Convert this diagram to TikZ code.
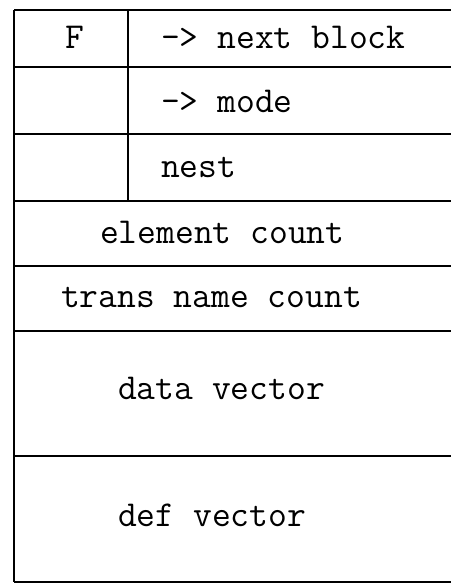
\documentclass[tikz,border=0pt]{standalone}
\usepackage{fontspec}
\begin{document}
\begin{tikzpicture}[x=1pt,y=-1pt,line cap=butt,line join=miter]
		\tikzset{declare function={xl=14;xd=128;xr=451;ytop=10;ybot=582;},
			cell/.style={anchor=base west,inner sep=0pt,font=\ttfamily\fontsize{36.5}{36.5}\selectfont},
			rule/.style={line width=1.8pt}
		}
		\useasboundingbox (0,0) rectangle (451,584);
		\foreach \y in {ytop,67,134,201,266,331,456,ybot} \draw[rule] (xl,\y)--(xr,\y);
		\draw[rule] (xl,ytop)--(xl,ybot);
		\draw[rule] (xd,ytop)--(xd,201);
		\node[cell] (flag) at (65,48) {F};
		\node[cell] (next) at (161,48) {-> next block};
		\node[cell] (mode) at (161,112) {-> mode};
		\node[cell] (nest) at (161,177) {nest};
		\node[cell] (elem) at (100,243) {element count};
		\node[cell] (trans) at (61,307) {trans name count};
		\node[cell] (data) at (118,399) {data vector};
		\node[cell] (def) at (118,526) {def vector};
	\end{tikzpicture}
\end{document}
